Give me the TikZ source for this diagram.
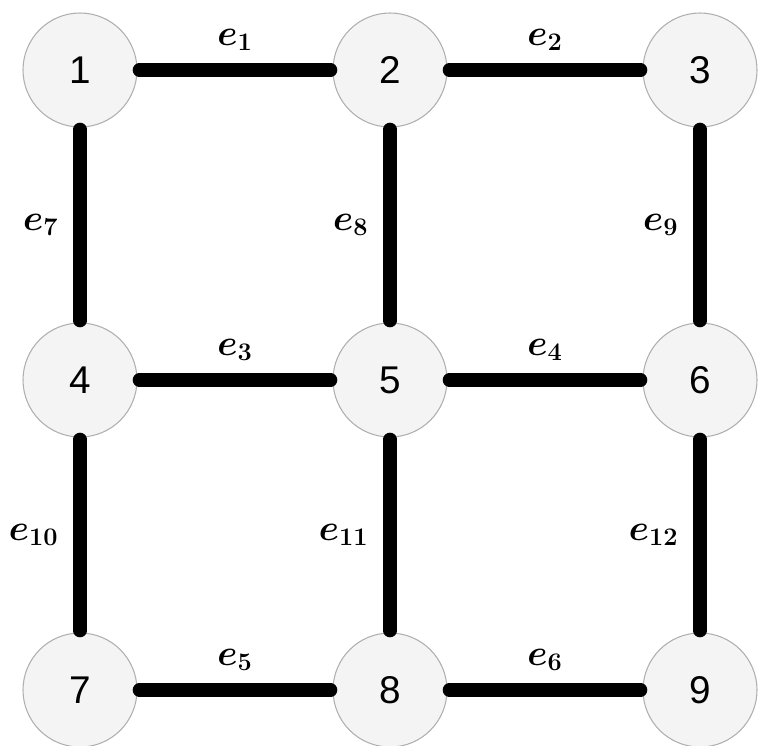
\documentclass[tikz,border=0pt]{standalone}
\usepackage{fontspec}
\setmainfont{Liberation Sans}
\usepackage{tikz}
\usetikzlibrary{positioning}
\definecolor{vertexfill}{RGB}{244,244,244}
\definecolor{vertexline}{RGB}{175,175,175}

\begin{document}
\begin{tikzpicture}[node distance=6.2cm, on grid,
  vertex/.style={circle,draw=vertexline,fill=vertexfill,line width=0.6pt,minimum size=2.28cm,inner sep=0pt,font=\fontsize{22}{26}\selectfont},
  edgeline/.style={line width=7.5pt,line cap=round,shorten >=1pt,shorten <=1pt},
  elabel/.style={font=\huge\boldmath,inner sep=0pt}]
  \useasboundingbox (0,0) rectangle (15.16,-14.9);
  \node[vertex] (n1) at (1.6,-1.4) {1};
  \node[vertex,right=of n1] (n2) {2};
  \node[vertex,right=of n2] (n3) {3};
  \node[vertex,below=of n1] (n4) {4};
  \node[vertex,right=of n4] (n5) {5};
  \node[vertex,right=of n5] (n6) {6};
  \node[vertex,below=of n4] (n7) {7};
  \node[vertex,right=of n7] (n8) {8};
  \node[vertex,right=of n8] (n9) {9};
  % horizontal edges
  \draw[edgeline] (n1) -- node[elabel,above=0.25cm] {$e_{1}$} (n2);
  \draw[edgeline] (n2) -- node[elabel,above=0.25cm] {$e_{2}$} (n3);
  \draw[edgeline] (n4) -- node[elabel,above=0.25cm] {$e_{3}$} (n5);
  \draw[edgeline] (n5) -- node[elabel,above=0.25cm] {$e_{4}$} (n6);
  \draw[edgeline] (n7) -- node[elabel,above=0.25cm] {$e_{5}$} (n8);
  \draw[edgeline] (n8) -- node[elabel,above=0.25cm] {$e_{6}$} (n9);
  % vertical edges
  \draw[edgeline] (n1) -- node[elabel,left=0.3cm] {$e_{7}$} (n4);
  \draw[edgeline] (n2) -- node[elabel,left=0.3cm] {$e_{8}$} (n5);
  \draw[edgeline] (n3) -- node[elabel,left=0.3cm] {$e_{9}$} (n6);
  \draw[edgeline] (n4) -- node[elabel,left=0.3cm] {$e_{10}$} (n7);
  \draw[edgeline] (n5) -- node[elabel,left=0.3cm] {$e_{11}$} (n8);
  \draw[edgeline] (n6) -- node[elabel,left=0.3cm] {$e_{12}$} (n9);
\end{tikzpicture}
\end{document}
